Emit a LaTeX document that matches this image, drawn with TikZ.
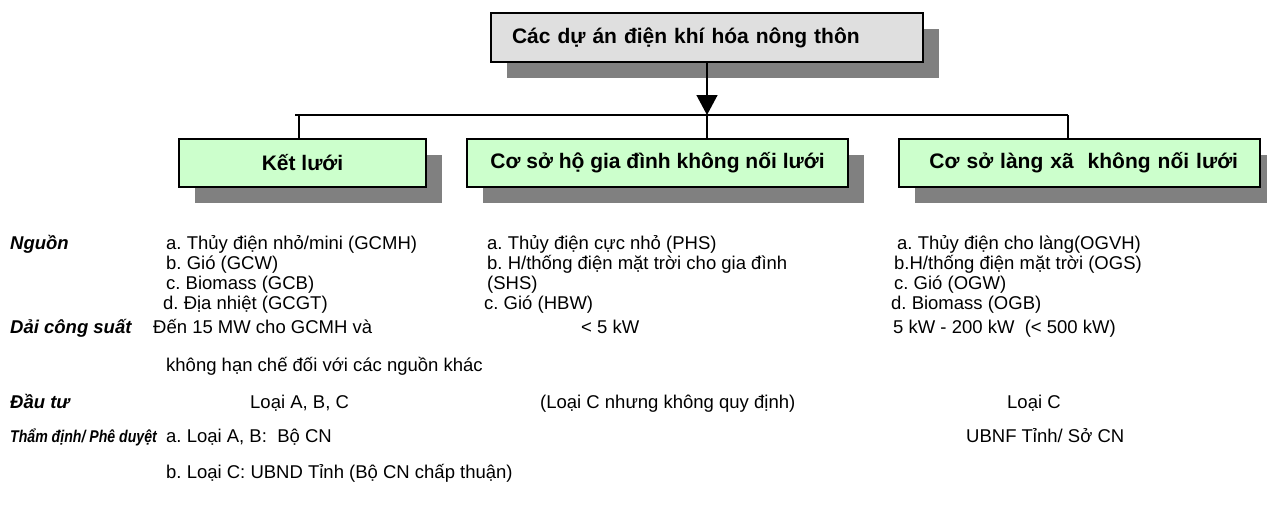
\documentclass[tikz,border=0pt]{standalone}
\usepackage{fontspec}
\setmainfont{Liberation Sans}
\usetikzlibrary{arrows.meta,shadows}
\definecolor{shadowgray}{HTML}{808080}
\definecolor{topfill}{HTML}{DFDFDF}
\definecolor{boxgreen}{HTML}{CCFFCC}
\tikzset{
  boxshadow/.style={general shadow={shadow xshift=16pt, shadow yshift=-16pt, fill=shadowgray}},
  topbox/.style={draw=black, line width=1.5pt, fill=topfill, boxshadow, minimum height=49pt,
    inner ysep=0pt, font=\fontsize{21}{24}\selectfont\bfseries},
  catbox/.style={draw=black, line width=1.5pt, fill=boxgreen, boxshadow, minimum height=48pt,
    inner ysep=0pt, font=\fontsize{21}{24}\selectfont\bfseries},
  conn/.style={line width=1.4pt},
  body/.style={anchor=base west, inner sep=0pt, font=\fontsize{18.5}{20}\selectfont},
  rowlabel/.style={anchor=base west, inner sep=0pt, font=\fontsize{18.5}{20}\selectfont\bfseries\itshape},
}
\begin{document}
\frenchspacing
\begin{tikzpicture}[x=1pt,y=-1pt]
\useasboundingbox (0,0) rectangle (1267,507);
% boxes
\node[topbox, text width=390pt, inner xsep=21pt, align=left] (top) at (707,37.5) {Các dự án điện khí hóa nông thôn};
\node[catbox, minimum width=247pt] (box1) at (302.5,163) {Kết lưới};
\node[catbox, minimum width=381pt] (box2) at (657.5,163) {Cơ sở hộ gia đình không nối lưới};
\node[catbox, text width=317pt, inner xsep=22pt, align=right] (box3) at (1079.5,163) {Cơ sở làng xã~ không nối lưới};
% connectors
\coordinate (hl) at (295,115);
\coordinate (j1) at (299,115);
\coordinate (j2) at (707,115);
\coordinate (j3) at (1068,115);
\draw[conn] (hl) -- (j3);
\draw[conn] (j1) -- (j1 |- box1.north);
\draw[conn] (j2) -- (j2 |- box2.north);
\draw[conn] (j3) -- (j3 |- box3.north);
\draw[conn, -{Triangle[length=20pt,width=21pt]}] (top.south) -- (j2);
% row labels
\node[rowlabel] (lNguon) at (10,249) {Nguồn};
\node[rowlabel] (lDai) at (10,333) {Dải công suất};
\node[rowlabel] (lDau) at (10,408) {Đầu tư};
\node[rowlabel, font=\fontsize{17}{20}\selectfont\bfseries\itshape] (lTham) at (10,442) {\scalebox{0.83}[1]{Thẩm định/ Phê duyệt}};
% Nguon column 1
\node[body] (n1a) at (166,249) {a. Thủy điện nhỏ/mini (GCMH)};
\node[body] (n1b) at (166,269) {b. Gió (GCW)};
\node[body] (n1c) at (166,289) {c. Biomass (GCB)};
\node[body] (n1d) at (163,309) {d. Địa nhiệt (GCGT)};
% Nguon column 2
\node[body] (n2a) at (487,249) {a. Thủy điện cực nhỏ (PHS)};
\node[body] (n2b) at (487,269) {b. H/thống điện mặt trời cho gia đình};
\node[body] (n2b2) at (487,289) {(SHS)};
\node[body] (n2c) at (484,309) {c. Gió (HBW)};
% Nguon column 3
\node[body] (n3a) at (897,249) {a. Thủy điện cho làng(OGVH)};
\node[body] (n3b) at (894,269) {b.H/thống điện mặt trời (OGS)};
\node[body] (n3c) at (894,289) {c. Gió (OGW)};
\node[body] (n3d) at (891,309) {d. Biomass (OGB)};
% Dai cong suat
\node[body] (d1) at (153,333) {Đến 15 MW cho GCMH và};
\node[body] (d2) at (581,333) {< 5 kW};
\node[body] (d3) at (893,333) {5 kW - 200 kW~ (< 500 kW)};
\node[body] (d1b) at (166,371) {không hạn chế đối với các nguồn khác};
% Dau tu
\node[body] (u1) at (250,408) {Loại A, B, C};
\node[body] (u2) at (540,408) {(Loại C nhưng không quy định)};
\node[body] (u3) at (1007,408) {Loại C};
% Tham dinh
\node[body] (t1) at (166,442) {a. Loại A, B:~ Bộ CN};
\node[body] (t3) at (966,442) {UBNF Tỉnh/ Sở CN};
\node[body] (t1b) at (166,478) {b. Loại C: UBND Tỉnh (Bộ CN chấp thuận)};
\end{tikzpicture}
\end{document}
